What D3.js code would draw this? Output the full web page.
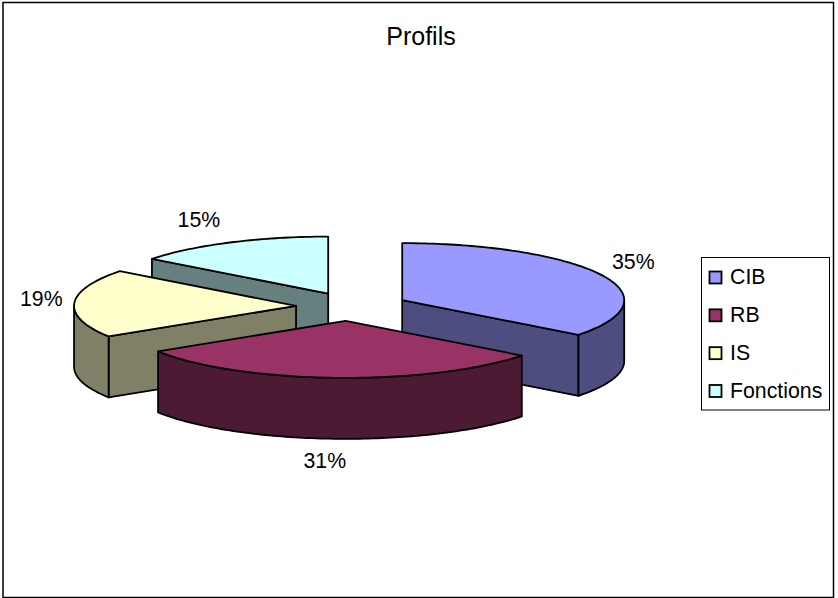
<!DOCTYPE html>
<html>
<head>
<meta charset="utf-8">
<script src="https://cdn.jsdelivr.net/npm/d3@7/dist/d3.min.js"></script>
<style>
html,body{margin:0;padding:0;background:#fff}
svg{display:block}
text{font-family:"Liberation Sans",Arial,sans-serif;fill:#000}
</style>
</head>
<body>
<svg id="chart" width="838" height="598"></svg>
<script>
const categories = ["CIB", "RB", "IS", "Fonctions"];
const values = [35.4, 30.6, 19.4, 14.6];
const topColors = ["#9999FF", "#993366", "#FFFFCC", "#CCFFFF"];
const sideColors = ["#4D4D80", "#4D1A33", "#808066", "#668080"];
const titleText = "Profils";

// layout
const W = 838, H = 598;
const cx = 352, cy = 306.5, rx = 222, ry = 57, depth = 61, explode = 56 / 222;
const sliceShift = [[0, 0], [-4, 0], [0, 0], [1, 0]];
const labelNudge = [[32, -13], [-11, 83], [-33, -5], [-31, -23]];
const drawOrder = [3, 0, 2, 1];

const svg = d3.select("#chart");
svg.append("rect").attr("x", 3).attr("y", 2.5).attr("width", 830.5).attr("height", 595)
  .attr("fill", "#fff").attr("stroke", "#000").attr("stroke-width", 1.5);

svg.append("text").attr("x", 421).attr("y", 44.5).attr("text-anchor", "middle")
  .attr("font-size", 25).text(titleText);

const arcs = d3.pie().sort(null).value(d => d)(values);

const point = (c, t, dy = 0) => [c[0] + rx * Math.sin(t), c[1] - ry * Math.cos(t) + dy];
const line = d3.line();

function sweep(c, a, b, dy) {
  const n = Math.max(2, Math.ceil((b - a) / 0.02));
  return d3.range(n + 1).map(i => point(c, a + (b - a) * i / n, dy));
}

const slices = arcs.map((a, i) => {
  const mid = (a.startAngle + a.endAngle) / 2;
  const c = [cx + rx * explode * Math.sin(mid) + sliceShift[i][0],
             cy - ry * explode * Math.cos(mid) + sliceShift[i][1]];
  return {a, i, mid, c};
});

const g = svg.append("g").attr("stroke", "#000").attr("stroke-width", 1.8).attr("stroke-linejoin", "round");

drawOrder.forEach(i => {
  const {a, c} = slices[i];
  const t0 = a.startAngle, t1 = a.endAngle;
  // visible radial walls
  [[t0, Math.sin(t0) < -1e-6], [t1, Math.sin(t1) > 1e-6]].forEach(([t, vis]) => {
    if (!vis) return;
    const rim = point(c, t);
    g.append("path").attr("fill", sideColors[i])
      .attr("d", line([c, rim, [rim[0], rim[1] + depth], [c[0], c[1] + depth]]) + "Z");
  });
  // outer curved wall, front half only
  const lo = Math.max(t0, Math.PI / 2), hi = Math.min(t1, 3 * Math.PI / 2);
  if (hi > lo) {
    const pts = sweep(c, lo, hi, 0).concat(sweep(c, lo, hi, depth).reverse());
    g.append("path").attr("fill", sideColors[i]).attr("d", line(pts) + "Z");
  }
  // top face
  g.append("path").attr("fill", topColors[i])
    .attr("d", line([c].concat(sweep(c, t0, t1, 0))) + "Z");
});

// percent labels
const total = d3.sum(values);
const pct = d3.format(".0%");
slices.forEach(({mid, c, i}) => {
  const p = point(c, mid);
  svg.append("text").attr("x", p[0] + labelNudge[i][0]).attr("y", p[1] + labelNudge[i][1] + 7.5)
    .attr("text-anchor", "middle").attr("font-size", 21.3)
    .text(pct(values[i] / total));
});

// legend
const legend = svg.append("g");
legend.append("rect").attr("x", 701.5).attr("y", 257.5).attr("width", 128).attr("height", 152.5)
  .attr("fill", "#fff").attr("stroke", "#000").attr("stroke-width", 1);
const ly = d3.scalePoint().domain(categories).range([277, 390.5]);
categories.forEach((name, i) => {
  legend.append("rect").attr("x", 709.5).attr("y", ly(name) - 5.5).attr("width", 12).attr("height", 12)
    .attr("fill", topColors[i]).attr("stroke", "#000").attr("stroke-width", 1.8);
  legend.append("text").attr("x", 730).attr("y", ly(name) + 7).attr("font-size", 21.3).text(name);
});
</script>
</body>
</html>
